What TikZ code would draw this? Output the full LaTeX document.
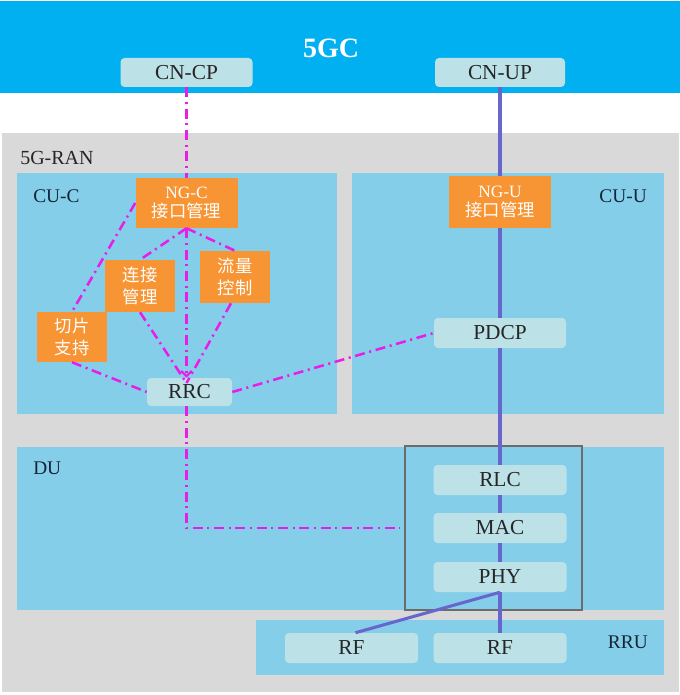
\documentclass[tikz,border=0pt]{standalone}
\usepackage{fontspec}
\setmainfont{Liberation Serif}
\newfontfamily\cjk{Noto Sans CJK SC}
\usetikzlibrary{arrows.meta}
\definecolor{topband}{RGB}{0,176,240}
\definecolor{bggray}{RGB}{217,217,217}
\definecolor{regionblue}{RGB}{133,206,234}
\definecolor{lightbox}{RGB}{188,226,232}
\definecolor{orangebox}{RGB}{247,148,51}
\definecolor{ctrlline}{RGB}{232,30,232}
\definecolor{userline}{RGB}{102,102,204}
\definecolor{labeltext}{RGB}{20,36,56}
\tikzset{
  wh/.style 2 args={minimum width=#1*0.75pt, minimum height=#2*0.75pt},
  lbox/.style={fill=lightbox, rounded corners=3pt, inner sep=0pt, font=\fontsize{16}{18}\selectfont, text=black!85},
  obox/.style={fill=orangebox, inner sep=0pt, align=center, text=white, font=\fontsize{13}{15.5}\selectfont},
  cjkbox/.style={obox, font=\cjk\fontsize{13}{16.5}\selectfont},
  region/.style={fill=regionblue, draw=none},
  rlabel/.style={text=labeltext, inner sep=0pt, font=\fontsize{14.5}{16}\selectfont},
  cline/.style={draw=ctrlline, line width=1.9pt, dash pattern=on 7.5pt off 3.5pt on 1.5pt off 3.5pt},
  uline/.style={draw=userline, line width=2.3pt}
}
\begin{document}
\begin{tikzpicture}[x=0.75pt,y=-0.75pt]
\useasboundingbox (0,0) rectangle (680,695);
\fill[white] (0,0) rectangle (680,695);
% bands
\fill[topband] (0,1) rectangle (680,93);
\fill[bggray] (2,133) rectangle (679,692);
\fill[region] (17,173) rectangle (337,414);
\fill[region] (352,173) rectangle (664,414);
\fill[region] (17,447) rectangle (664,610);
\fill[region] (256,620) rectangle (664,675);
\draw[draw=gray!85!black, line width=1.5pt, fill=regionblue] (405,446) rectangle (582,610);
% labels
\node[text=white, font=\bfseries\fontsize{21}{23}\selectfont, inner sep=0pt] (t5gc) at (331,48) {5GC};
\node[text=black!85, font=\fontsize{15}{17}\selectfont, inner sep=0pt, anchor=west] (tran) at (20,158) {5G-RAN};
\node[rlabel, anchor=west] (tcuc) at (33,196) {CU-C};
\node[rlabel, anchor=east] (tcuu) at (647,196) {CU-U};
\node[rlabel, anchor=west] (tdu) at (33,468) {DU};
\node[rlabel, anchor=east] (trru) at (648,642) {RRU};
% light boxes
\node[lbox, wh={132}{29}] (cncp) at (186.5,72.5) {CN-CP};
\node[lbox, wh={130}{29}] (cnup) at (500,72.5) {CN-UP};
\node[lbox, wh={85}{28}] (rrc) at (189.5,392) {RRC};
\node[lbox, wh={132}{30}] (pdcp) at (500,333) {PDCP};
\node[lbox, wh={133}{30}] (rlc) at (500,480) {RLC};
\node[lbox, wh={133}{30}] (mac) at (500,528) {MAC};
\node[lbox, wh={133}{30}] (phy) at (500,577) {PHY};
\node[lbox, wh={133}{30}] (rf1) at (351.5,648) {RF};
\node[lbox, wh={133}{30}] (rf2) at (500,648) {RF};
% orange boxes
\node[obox, wh={102}{50}] (ngc) at (186.5,203) {NG-C\\[-1pt]{\cjk 接口管理}};
\node[obox, wh={102}{52}] (ngu) at (500,202) {NG-U\\[-1pt]{\cjk 接口管理}};
\node[cjkbox, wh={70}{52}] (ljgl) at (140,286) {连接\\管理};
\node[cjkbox, wh={70}{52}] (llkz) at (235,277) {流量\\控制};
\node[cjkbox, wh={70}{50}] (qpzc) at (72,337) {切片\\支持};
\coordinate (duin) at (400,528);
\coordinate (meet) at ([yshift=-4pt]rrc.north -| ngc.south);
% control plane lines
\draw[cline] (cncp.south) -- (ngc.north);
\draw[cline, -{Straight Barb[length=4pt,width=8pt,line width=1.6pt]}] (ngc.south) -- (rrc.north -| ngc.south);
\draw[cline] (ngc.south) -- (ljgl.north);
\draw[cline] (ngc.south) -- (llkz.north);
\draw[cline] (ngc.west) -- (qpzc.north);
\draw[cline] (ljgl.south) -- (meet);
\draw[cline] ([xshift=-3pt]llkz.south) -- (meet);
\draw[cline] (qpzc.south) -- (rrc.west);
\draw[cline] (rrc.east) -- (pdcp.west);
\draw[cline] (rrc.south -| ngc.south) |- (duin);
% user plane lines
\draw[uline] (cnup.south) -- (ngu.north);
\draw[uline] (ngu.south) -- (pdcp.north);
\draw[uline] (pdcp.south) -- (rlc.north);
\draw[uline] (rlc.south) -- (mac.north);
\draw[uline] (mac.south) -- (phy.north);
\draw[uline] (phy.south) -- (rf2.north);
\draw[uline] (phy.south) -- ([xshift=3pt]rf1.north);
\end{tikzpicture}
\end{document}
